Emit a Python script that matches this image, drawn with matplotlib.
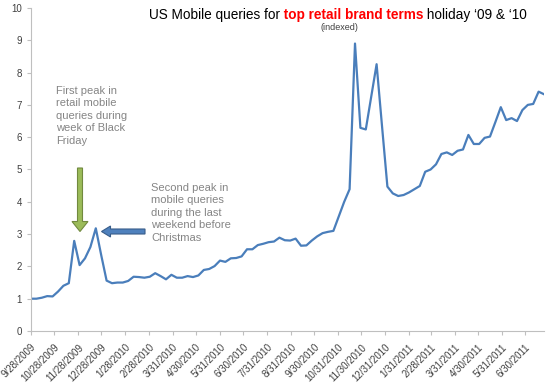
import pandas as pd
import matplotlib
matplotlib.use("Agg")
import matplotlib.pyplot as plt
from matplotlib.patches import FancyArrow
from matplotlib.transforms import IdentityTransform

plt.rcParams['font.family'] = ['Liberation Sans', 'DejaVu Sans']

# weekly index of mobile queries (first week = 1.0)
start_week = "2009-09-28"
queries = [
    1.00, 1.00, 1.03, 1.08, 1.07, 1.22, 1.40, 1.48, 2.79, 2.04,
    2.25, 2.60, 3.18, 2.35, 1.56, 1.48, 1.50, 1.50, 1.55, 1.68,
    1.67, 1.65, 1.68, 1.79, 1.70, 1.60, 1.74, 1.65, 1.65, 1.70,
    1.67, 1.72, 1.89, 1.92, 2.01, 2.18, 2.14, 2.25, 2.26, 2.31,
    2.53, 2.53, 2.66, 2.70, 2.75, 2.77, 2.89, 2.81, 2.80, 2.86,
    2.64, 2.65, 2.80, 2.93, 3.03, 3.07, 3.10, 3.55, 4.00, 4.39,
    8.90, 6.29, 6.24, 7.25, 8.26, 6.35, 4.47, 4.26, 4.18, 4.21,
    4.29, 4.39, 4.49, 4.93, 5.00, 5.16, 5.48, 5.53, 5.45, 5.58,
    5.62, 6.07, 5.79, 5.79, 5.98, 6.02, 6.47, 6.93, 6.53, 6.59,
    6.50, 6.84, 7.00, 7.03, 7.41, 7.33,
]
weeks = pd.date_range(start_week, periods=len(queries), freq="7D")

tick_labels = [
    "9/28/2009", "10/28/2009", "11/28/2009", "12/28/2009", "1/28/2010",
    "2/28/2010", "3/31/2010", "4/30/2010", "5/31/2010", "6/30/2010",
    "7/31/2010", "8/31/2010", "9/30/2010", "10/31/2010", "11/30/2010",
    "12/31/2010", "1/31/2011", "2/28/2011", "3/31/2011", "4/30/2011",
    "5/31/2011", "6/30/2011",
]
tick_dates = pd.to_datetime(tick_labels, format="%m/%d/%Y")

note_black_friday = "First peak in\nretail mobile\nqueries during\nweek of Black\nFriday"
note_christmas = "Second peak in\nmobile queries\nduring the last\nweekend before\nChristmas"

fig = plt.figure(figsize=(5.5, 3.83), dpi=100)
ax = fig.add_axes([31 / 550, 1 - 331 / 383, 513 / 550, 323 / 383])

ax.plot(weeks, queries, color="#4a7ebb", lw=1.6, solid_joinstyle="round")

ax.set_ylim(0, 10)
ax.set_yticks(range(0, 11))
ax.set_xlim(weeks[0], weeks[-1])
ax.set_xticks(tick_dates)
ax.set_xticklabels(tick_labels, rotation=45, ha="right", rotation_mode="anchor")

for side in ["top", "right"]:
    ax.spines[side].set_visible(False)
for side in ["left", "bottom"]:
    ax.spines[side].set_color("#bfbfbf")
ax.tick_params(axis="both", colors="#bfbfbf", length=3, labelcolor="#404040", labelsize=7)
ax.tick_params(axis="x", pad=5)

# title in three colours
t1 = fig.text(149 / 550, 1 - 19 / 383, "US Mobile queries for", fontsize=9.8, va="baseline")
t2 = ax.annotate(" top retail brand terms", xy=(1, 0), xycoords=t1, va="bottom",
                 fontsize=9.8, color="red", fontweight="bold")
ax.annotate(" holiday \u201809 & \u201810", xy=(1, 0), xycoords=t2, va="bottom", fontsize=9.8)
fig.text(339 / 550, 1 - 28 / 383, "(indexed)", fontsize=6.5, ha="center", va="center", color="#404040")

fig.text(56 / 550, 1 - 86 / 383, note_black_friday, fontsize=8, color="#858585",
         va="top", linespacing=1.3)
fig.text(151 / 550, 1 - 183 / 383, note_christmas, fontsize=8, color="#858585",
         va="top", linespacing=1.3)

# arrows drawn in pixel coordinates
px = IdentityTransform()
fig.patches.append(FancyArrow(80, 383 - 168, 0, -63.5, width=5, head_width=16, head_length=10,
                              length_includes_head=True, fc="#9bbb59", ec="#71893f", lw=0.8,
                              transform=px, figure=fig))
fig.patches.append(FancyArrow(145, 383 - 231.5, -43.5, 0, width=5, head_width=11, head_length=9,
                              length_includes_head=True, fc="#4f81bd", ec="#385d8a", lw=0.8,
                              transform=px, figure=fig))

fig.savefig("out.png", dpi=100)
